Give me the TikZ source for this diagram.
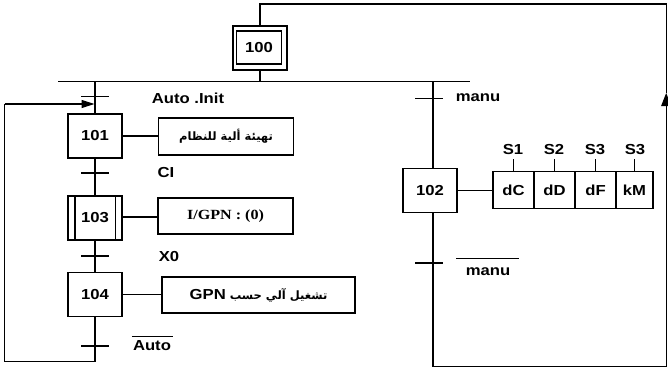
\documentclass[tikz,border=0pt]{standalone}
\usepackage{fontspec}
\setmainfont{Liberation Sans}[FakeStretch=1.15]
\newfontfamily\serifb{Liberation Serif}[FakeStretch=1.15]
\newfontfamily\arabicfont[Script=Arabic]{DejaVu Sans}
\TeXXeTstate=1
\usetikzlibrary{arrows.meta}
\tikzset{
  ln/.style={line width=1.1pt},
  mainfont/.style={font=\fontsize{14.5}{16}\selectfont\bfseries},
  stepbox/.style={draw, ln, minimum width=54pt, minimum height=44pt, inner sep=0pt, mainfont},
  actbox/.style={draw, ln, minimum height=37pt, inner sep=0pt, mainfont},
  cellbox/.style={draw, ln, minimum width=41pt, minimum height=37pt, inner sep=0pt, mainfont},
  lbl/.style={inner sep=0pt, mainfont},
  tip/.style={-{Triangle[length=13pt,width=8pt]}},
  bigtip/.style={-{Triangle[length=13pt,width=10pt]}}
}
\begin{document}
\begin{tikzpicture}[x=1pt,y=-1pt]
\useasboundingbox (0,0) rectangle (668,369);
% initial step
\node[stepbox, minimum width=54pt, minimum height=44pt] (s100o) at (260,48) {};
\node[stepbox, minimum width=45pt, minimum height=33pt] (s100) at (259,47.5) {100};
% divergence line
\coordinate (divL) at (58,81.5);
\coordinate (divR) at (470,81.5);
\draw[ln] (divL) -- (divR);
\draw[ln] (s100o.south) -- (s100o.south |- divL);
% left branch steps
\node[stepbox] (s101) at (95,136) {101};
\node[stepbox] (s103) at (95,218) {103};
\node[stepbox] (s104) at (95,294.5) {104};
\draw[ln] ([xshift=7.5pt]s103.north west) -- ([xshift=7.5pt]s103.south west);
\draw[ln] ([xshift=-7pt]s103.north east) -- ([xshift=-7pt]s103.south east);
% actions
\node[actbox, minimum width=135pt] (a101) at (226,136.5)
  {\arabicfont\fontsize{11.5}{13}\selectfont\beginR تهيئة ألية للنظام\endR};
\node[actbox, minimum width=135pt, minimum height=36pt, font=\serifb\fontsize{14}{16}\selectfont\bfseries] (a103) at (225.5,216) {I/GPN : (0)};
\node[actbox, minimum width=193pt, minimum height=36pt] (a104) at (258.5,295)
  {\arabicfont\fontsize{11.5}{13}\selectfont\beginR تشغيل آلي حسب \beginL{\normalfont\fontsize{14.5}{16}\selectfont\bfseries GPN}\endL\endR};
\draw[ln] (s101.east) -- (s101.east -| a101.west);
\draw[ln] (s103.east |- 0,217) -- (a103.west |- 0,217);
\draw[ln] (s104.east) -- (s104.east -| a104.west);
% left vertical links
\draw[ln] (s101.north |- divL) -- (s101.north);
\draw[ln] (s101.south) -- (s103.north);
\draw[ln] (s103.south) -- (s104.north);
% transitions left
\draw[ln] (81,96.5) -- (109,96.5);
\draw[ln] (81,173) -- (109,173);
\draw[ln] (81,256) -- (109,256);
\draw[ln] (81,346) -- (109,346);
\node[lbl] (tAI) at (188,98) {Auto .Init};
\node[lbl] (tCI) at (166,173) {CI};
\node[lbl] (tX0) at (169,257) {X0};
\node[lbl] (tAb) at (152,346) {Auto};
\draw[ln] ([yshift=4pt,xshift=-1pt]tAb.north west) -- ([yshift=4pt,xshift=2pt]tAb.north east);
% loop back
\coordinate (lb) at (95,361.5);
\coordinate (lbl2) at (4.5,361.5);
\coordinate (lt) at (4.5,104);
\coordinate (arrL) at (94.5,104);
\draw[ln] (s104.south) -- (lb) -- (lbl2) -- (lt);
\draw[ln,tip] (lt) -- (arrL);
% right branch
\coordinate (rbr) at (433,81.5);
\node[stepbox] (s102) at (430,190.3) {102};
\draw[ln] (rbr) -- (rbr |- s102.north);
\draw[ln] (415,98.5) -- (443,98.5);
\node[lbl] (tM) at (478,98) {manu};
\node[cellbox] (c1) at (513.5,190.3) {dC};
\node[cellbox] (c2) at (554.5,190.3) {dD};
\node[cellbox] (c3) at (595.5,190.3) {dF};
\node[cellbox, minimum width=37pt] (c4) at (634.5,190.3) {kM};
\draw[ln] (s102.east) -- (c1.west);
\node[lbl] (L1) at (513,150) {S1};
\node[lbl] (L2) at (554,150) {S2};
\node[lbl] (L3) at (595,150) {S3};
\node[lbl] (L4) at (635,150) {S3};
\draw[ln] (c1.north) -- ++(0,-12);
\draw[ln] (c2.north) -- ++(0,-12);
\draw[ln] (c3.north) -- ++(0,-12);
\draw[ln] (c4.north) -- ++(0,-12);
\draw[ln] (415,263) -- (443,263);
\node[lbl] (tMb) at (488,272) {manu};
\draw[ln] ([yshift=9pt]tMb.north west -| 456,0) -- ([yshift=9pt]tMb.north east -| 519,0);
% right loop
\coordinate (rb1) at (433,366.5);
\coordinate (rb2) at (666.2,366.5);
\coordinate (rarr) at (666.2,93);
\coordinate (rt) at (666.2,4);
\coordinate (rt2) at (260,4);
\draw[ln] (rbr |- s102.south) -- (rb1) -- (rb2);
\draw[ln,bigtip] (rb2) -- (rarr);
\draw[ln] (rarr) -- (rt) -- (rt2) -- (s100o.north);
\end{tikzpicture}
\end{document}
